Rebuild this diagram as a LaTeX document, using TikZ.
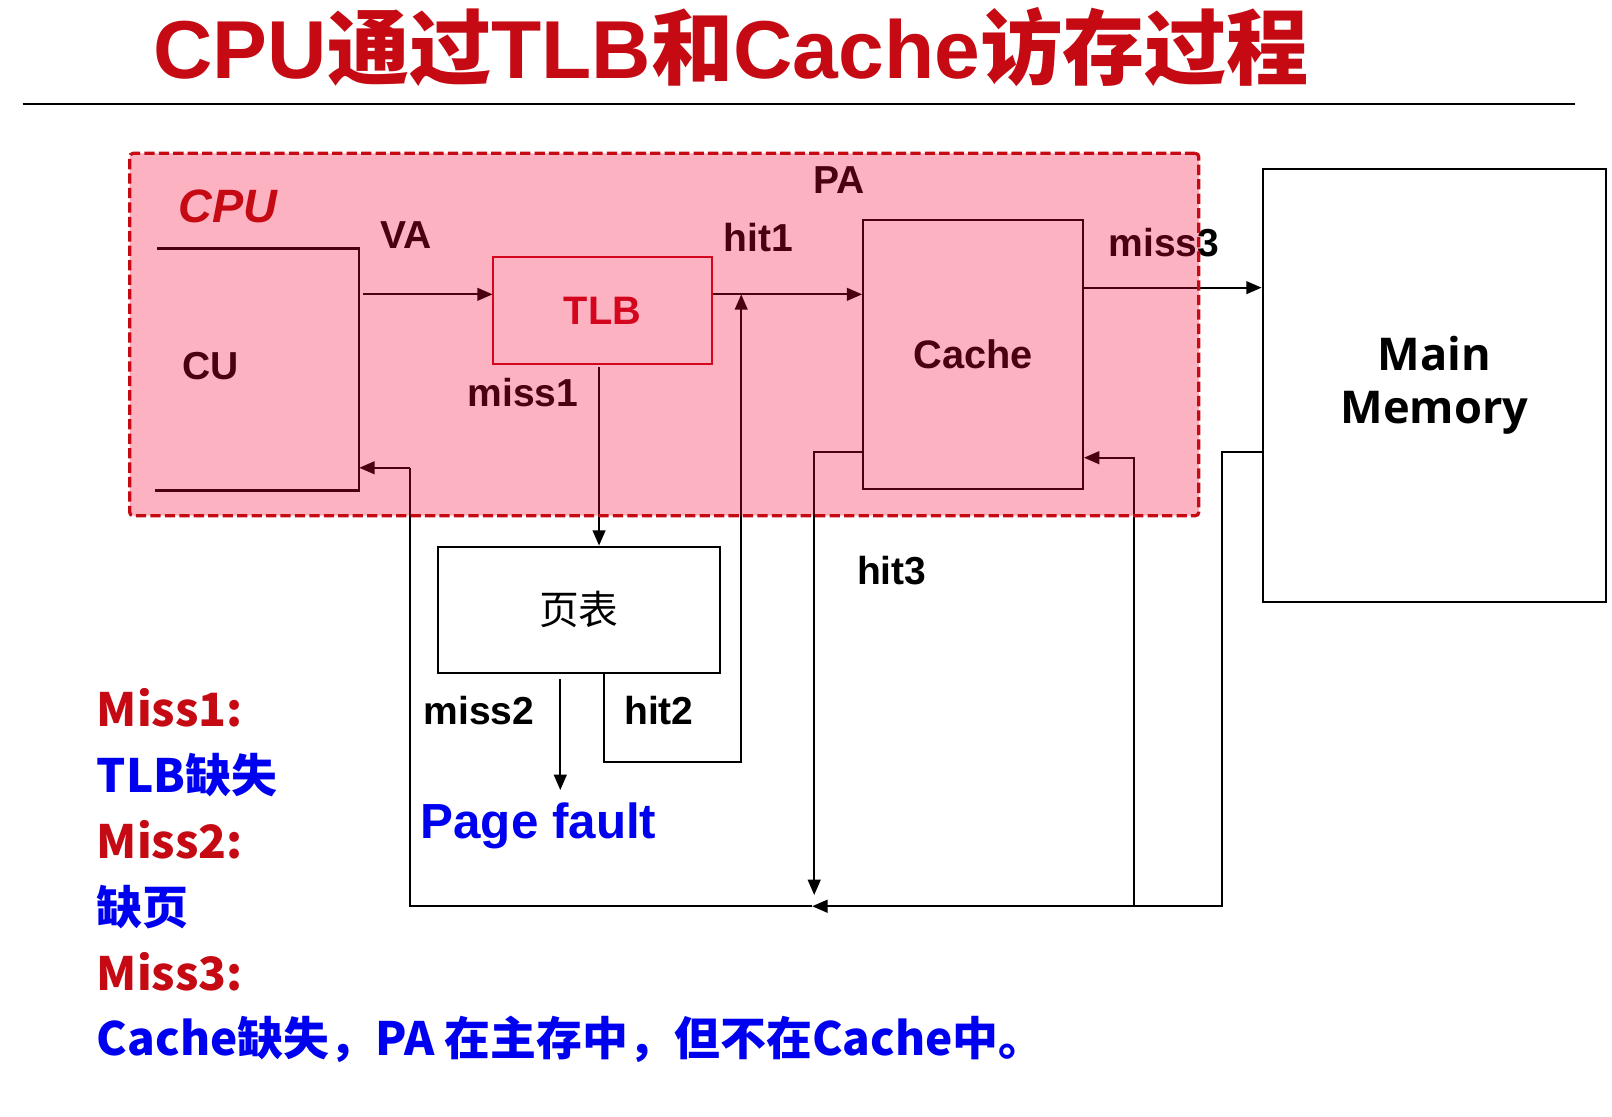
\documentclass[tikz,border=0pt]{standalone}
\usepackage{fontspec}
\setmainfont{Liberation Sans}
\newfontfamily\zhfont{Noto Sans CJK SC}
\newfontfamily\memfont{Open Sans}
\usetikzlibrary{arrows.meta,positioning}

\definecolor{slidered}{RGB}{197,10,20}
\definecolor{noteblue}{RGB}{0,0,240}
\definecolor{cpupink}{RGB}{247,0,53}

\newcommand{\zh}[1]{{\zhfont #1}}

\begin{document}
\begin{tikzpicture}[scale=0.2,
		every node/.style={inner sep=0pt},
		lbl/.style={font=\fontsize{21.6}{26}\selectfont\bfseries, anchor=base},
		box/.style={draw, line width=1.25pt},
		wire/.style={line width=1.25pt},
		arr/.style={wire, -{Triangle[length=8.5pt,width=7pt]}},
		note/.style={font=\zhfont\fontsize{25.4}{30}\selectfont\bfseries, anchor=base west}]
				\useasboundingbox (0,0) rectangle (156.8,-108.6);
				% title and rule
				\node [anchor=base west, text=slidered, font=\fontsize{45.5}{54}\selectfont\bfseries] (title) at (14.9,-7.62) {CPU\zh{通过}TLB\zh{和}Cache\zh{访存过程}};
				\draw [line width=1.6pt] (2.2,-10.12) -- (153.2,-10.12);
				% units
				\node [minimum width=3.92cm, minimum height=4.69cm] (cu) at (25.11,-35.94) {};
				\draw [wire] (cu.north west) -- (cu.north east) -- (cu.south east) -- ([xshift=-0.2cm]cu.south west);
				\node [lbl] (culbl) at (20.5,-36.88) {CU};
				\node [draw=slidered, line width=1.1pt, text=slidered, font=\fontsize{22}{26}\selectfont\bfseries, minimum width=4.27cm, minimum height=2.09cm] (tlb) at (58.59,-30.19) {TLB};
				\node [box, font=\fontsize{22}{26}\selectfont\bfseries, minimum width=4.27cm, minimum height=5.24cm] (cache) at (94.65,-34.47) {Cache};
				\node [box, font=\memfont\fontsize{25}{29.6}\selectfont\bfseries, align=center, minimum width=6.68cm, minimum height=8.42cm] (mm) at (139.53,-37.49) {Main\\Memory};
				\node [box, font=\zhfont\fontsize{22}{26}\selectfont, minimum width=5.49cm, minimum height=2.45cm] (pt) at (56.31,-59.31) {页表};
				\node [anchor=base, text=noteblue, font=\fontsize{27.3}{32}\selectfont\bfseries] (pf) at (52.38,-81.55) {Page fault};
				% labels
				\node [lbl] (va) at (39.5,-24.16) {VA};
				\node [lbl] (miss1) at (50.88,-39.56) {miss1};
				\node [lbl] (hit1) at (73.74,-24.48) {hit1};
				\node [lbl] (pa) at (81.65,-18.8) {PA};
				\node [lbl] (miss3) at (113.22,-24.97) {miss3};
				\node [lbl] (miss2) at (46.6,-70.43) {miss2};
				\node [lbl] (hit2) at (64.09,-70.43) {hit2};
				\node [lbl] (hit3) at (86.74,-56.9) {hit3};
				% turning points
				\coordinate (tlbin) at (47.92,-28.63);
				\coordinate (m1top) at (58.27,-35.67);
				\coordinate (pftop) at (54.5,-76.85);
				\coordinate (h2a) at (58.75,-74.1);
				\coordinate (h2b) at (72.1,-74.1);
				\coordinate (m3) at (105.34,-27.98);
				\coordinate (h3a) at (79.2,-43.97);
				\coordinate (h3b) at (79.2,-87.06);
				\coordinate (ma) at (118.9,-43.97);
				\coordinate (mb) at (118.9,-88.15);
				\coordinate (bus) at (79.0,-88.15);
				\coordinate (bl) at (39.9,-88.15);
				\coordinate (cb) at (39.9,-45.5);
				\coordinate (cf) at (110.3,-44.52);
				% connectors
				\draw [arr, shorten <=0.08cm] (cu.east |- tlbin) -- (tlbin);
				\draw [arr] (tlb.east |- tlbin) -- (cache.west |- tlbin);
				\draw [arr] (m1top) -- (m1top |- pt.north);
				\draw [arr, shorten <=0.1cm] (pt.south -| pftop) -- (pftop);
				\draw [arr] (pt.south -| h2a) -- (h2a) -- (h2b) -- (h2b |- tlbin);
				\draw [arr] (m3) -- (mm.west |- m3);
				\draw [arr] (cache.west |- h3a) -- (h3a) -- (h3b);
				\draw [arr] (mm.west |- ma) -- (ma) -- (mb) -- (bus);
				\draw [wire] (bus) -- (bl) -- (cb);
				\draw [arr] (cb) -- (cu.east |- cb);
				\draw [arr] (cf |- mb) -- (cf) -- (cache.east |- cf);
				% cpu area
				\node [fill=cpupink, fill opacity=0.3, draw=slidered, draw opacity=1, line width=1.8pt, dash pattern=on 5.7pt off 2.3pt, rounded corners=2pt, minimum width=20.8cm, minimum height=7.05cm] (cpu) at (64.61,-32.54) {};
				\node [text=slidered, font=\fontsize{25.9}{30}\selectfont\bfseries\itshape] (cpulbl) at (22.16,-20.1) {CPU};
				% notes
				\node [note, text=slidered] (n1) at (9.4,-70.7) {Miss1:};
				\node [note, text=noteblue] (n2) at (9.4,-77.1) {TLB缺失};
				\node [note, text=slidered] (n3) at (9.4,-83.5) {Miss2:};
				\node [note, text=noteblue] (n4) at (9.4,-89.9) {缺页};
				\node [note, text=slidered] (n5) at (9.4,-96.3) {Miss3:};
				\node [note, text=noteblue] (n6) at (9.4,-102.7) {Cache缺失，PA 在主存中，但不在Cache中。};
				\end{tikzpicture}
\end{document}
